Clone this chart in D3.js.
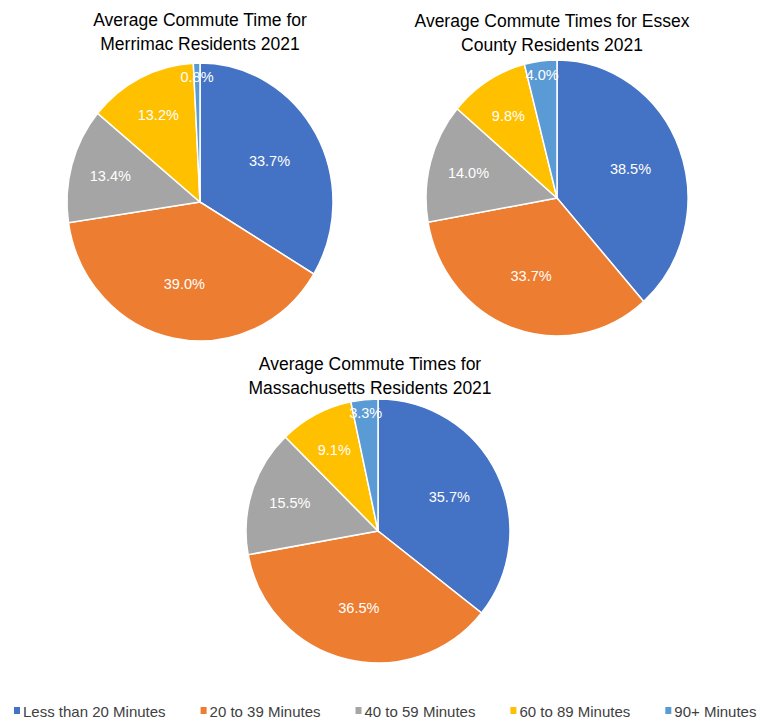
<!doctype html>
<html>
<head>
<meta charset="utf-8"/>
<title>Average Commute Times 2021</title>
<script src="https://d3js.org/d3.v7.min.js"></script>
<style>
  body { margin: 0; background: #fff; }
  text { font-family: "Liberation Sans", Arial, sans-serif; }
</style>
</head>
<body>
<div id="chart"></div>
<script>
// categories and values (percent of residents)
var categories = ["Less than 20 Minutes", "20 to 39 Minutes", "40 to 59 Minutes", "60 to 89 Minutes", "90+ Minutes"];
var merrimac = [33.7, 39.0, 13.4, 13.2, 0.8];
var essex = [38.5, 33.7, 14.0, 9.8, 4.0];
var massachusetts = [35.7, 36.5, 15.5, 9.1, 3.3];
var titleMerrimac = ["Average Commute Time for", "Merrimac Residents 2021"];
var titleEssex = ["Average Commute Times for Essex", "County Residents 2021"];
var titleMass = ["Average Commute Times for", "Massachusetts Residents 2021"];

var colors = ["#4472C4", "#ED7D31", "#A5A5A5", "#FFC000", "#5B9BD5"];
var color = d3.scaleOrdinal().domain(categories).range(colors);

var svg = d3.select("#chart").append("svg")
  .attr("width", 764)
  .attr("height", 724);

// layout of the three pies
var panels = [
  { values: merrimac, title: titleMerrimac, cx: 200, cy: 202, rx: 133, ry: 139, tx: 200, ty: 26 },
  { values: essex, title: titleEssex, cx: 557, cy: 198, rx: 131, ry: 138, tx: 552, ty: 27 },
  { values: massachusetts, title: titleMass, cx: 378, cy: 531, rx: 132, ry: 132, tx: 370, ty: 370 }
];

var pie = d3.pie().sort(null).value(function(d) { return d.v; });

panels.forEach(function(p) {
  var data = categories.map(function(c, i) { return { c: c, v: p.values[i] }; });
  var total = d3.sum(data, function(d) { return d.v; });
  var arcs = pie(data);
  var r = p.ry;
  var arc = d3.arc().innerRadius(0).outerRadius(r);

  var g = svg.append("g")
    .attr("transform", "translate(" + p.cx + "," + p.cy + ")");

  g.append("g")
    .attr("transform", "scale(" + (p.rx / p.ry) + ",1)")
    .selectAll("path")
    .data(arcs)
    .enter().append("path")
    .attr("d", arc)
    .attr("fill", function(d) { return color(d.data.c); })
    .attr("stroke", "#fff")
    .attr("stroke-width", 1.5)
    .attr("vector-effect", "non-scaling-stroke");

  g.selectAll("text.lbl")
    .data(arcs)
    .enter().append("text")
    .attr("class", "lbl")
    .attr("x", function(d) {
      var a = (d.startAngle + d.endAngle) / 2;
      return Math.sin(a) * labelFactor(d.data.v / total) * p.rx;
    })
    .attr("y", function(d) {
      var a = (d.startAngle + d.endAngle) / 2;
      return -Math.cos(a) * labelFactor(d.data.v / total) * p.ry;
    })
    .attr("text-anchor", "middle")
    .attr("dominant-baseline", "central")
    .attr("fill", "#fff")
    .attr("font-size", "14.5px")
    .text(function(d) { return d.data.v.toFixed(1) + "%"; });

  var t = svg.append("text")
    .attr("x", p.tx)
    .attr("y", p.ty)
    .attr("text-anchor", "middle")
    .attr("fill", "#000")
    .attr("font-size", "17.5px");
  p.title.forEach(function(line, i) {
    t.append("tspan")
      .attr("x", p.tx)
      .attr("dy", i === 0 ? 0 : 24)
      .text(line);
  });
});

function labelFactor(f) {
  if (f < 0.05) return 0.9;
  if (f > 0.3) return 0.6;
  return 0.7;
}

// legend
var legend = svg.append("g").attr("transform", "translate(14,711)");
var lx = 0;
categories.forEach(function(c) {
  var item = legend.append("g").attr("transform", "translate(" + lx + ",0)");
  item.append("rect")
    .attr("x", 0).attr("y", -4)
    .attr("width", 6).attr("height", 7)
    .attr("fill", color(c));
  var tx = item.append("text")
    .attr("x", 9)
    .attr("y", 0)
    .attr("dominant-baseline", "central")
    .attr("font-size", "15px")
    .attr("fill", "#404040")
    .text(c);
  lx += 9 + tx.node().getComputedTextLength() + 35;
});
</script>
</body>
</html>
